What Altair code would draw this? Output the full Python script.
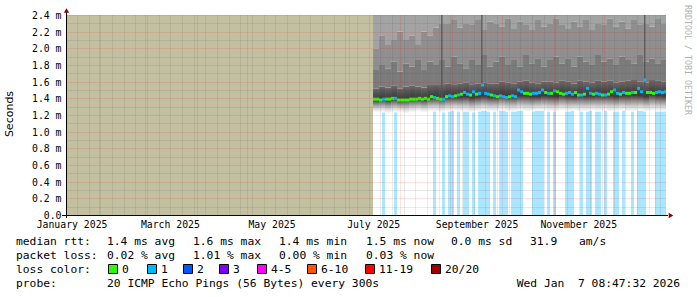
import altair as alt
import pandas as pd

# ---------------- time frame ----------------
VIEW_START = (2025, 1, 12, 8, 47, 32)
VIEW_END = (2026, 1, 7, 8, 47, 32)
NODATA_FROM = "2025-01-12T08:47:32"
DATA_START = "2025-07-15T14:00:00"
FMT = "%Y-%m-%dT%H:%M:%S"

# ---------------- median rtt (ms) and loss, 1.8-day bins from DATA_START ----------------
median_ms = [
    1.39, 1.39, 1.38, 1.39, 1.39, 1.39, 1.40, 1.40,
    1.38, 1.38, 1.38, 1.38, 1.39, 1.39, 1.39, 1.40, 1.39, 1.40, 1.39,
    1.42, 1.41, 1.40, 1.39, 1.39, 1.42,
    1.43, 1.42, 1.43, 1.44, 1.45, 1.47,
    1.45, 1.44, 1.48, 1.45, 1.46,
    1.56,
    1.46, 1.45, 1.44,
    1.43, 1.42, 1.43, 1.42, 1.41, 1.42, 1.43, 1.42,
    1.50, 1.48,
    1.46, 1.46, 1.45, 1.46, 1.46, 1.47,
    1.50,
    1.47, 1.46, 1.46,
    1.49, 1.48,
    1.46, 1.45, 1.46, 1.47,
    1.45, 1.47,
    1.44, 1.44, 1.45,
    1.52,
    1.46, 1.45, 1.46, 1.45,
    1.44, 1.44, 1.45,
    1.48, 1.50,
    1.46, 1.45, 1.47, 1.46, 1.46,
    1.47, 1.47,
    1.52, 1.48, 1.62,
    1.47, 1.47, 1.46, 1.47,
    1.48, 1.47, 1.48,
]
loss_cnt = [
    0, 0, 0, 1, 0, 0, 0, 1,
    0, 0, 0, 0, 0, 0, 0, 0, 0, 0, 0,
    0, 1, 0, 0, 1, 0,
    1, 1, 0, 1, 0, 1,
    1, 0, 1, 0, 1,
    1,
    1, 1, 0,
    1, 0, 1, 1, 1, 0, 1, 1,
    1, 1,
    0, 0, 0, 1, 1, 1,
    1,
    0, 1, 0,
    1, 0,
    0, 0, 1, 1,
    1, 0,
    0, 1, 0,
    1,
    1, 0, 1, 1,
    0, 1, 0,
    0, 1,
    1, 0, 1, 0, 0,
    1, 0,
    1, 1, 1,
    0, 0, 0, 1,
    1, 1, 1,
]

# ---------------- smoke boundaries (ms), 3.6-day bins from DATA_START ----------------
smoke_bottom = [
    1.23, 1.23, 1.22, 1.23, 1.23, 1.22, 1.23, 1.24, 1.23, 1.24,
    1.24, 1.23, 1.24, 1.25, 1.24, 1.24, 1.23, 1.24, 1.25, 1.24,
    1.24, 1.25, 1.24, 1.24, 1.25, 1.24, 1.24, 1.25, 1.25, 1.24,
    1.24, 1.25, 1.24, 1.25, 1.24, 1.24, 1.25, 1.24, 1.25, 1.24,
    1.24, 1.25, 1.24, 1.24, 1.25, 1.24, 1.25, 1.24, 1.24,
]
smoke_dark_top = [
    1.52, 1.54, 1.53, 1.55, 1.52, 1.54, 1.55, 1.54, 1.53, 1.56,
    1.57, 1.56, 1.58, 1.57, 1.58, 1.59, 1.57, 1.58, 1.59, 1.58,
    1.58, 1.60, 1.59, 1.58, 1.60, 1.61, 1.59, 1.58, 1.60, 1.60,
    1.59, 1.61, 1.60, 1.58, 1.61, 1.60, 1.59, 1.61, 1.60, 1.61,
    1.59, 1.60, 1.61, 1.62, 1.60, 1.59, 1.62, 1.61, 1.60,
]
smoke_mid_top = [
    1.74, 1.80, 1.76, 1.84, 1.72, 1.82, 1.78, 1.86, 1.75, 1.84,
    1.80, 1.86, 1.78, 1.90, 1.82, 1.76, 1.86, 1.80, 1.92, 1.78,
    1.84, 1.90, 1.80, 1.86, 1.78, 1.92, 1.82, 1.88, 1.78, 1.86,
    1.90, 1.82, 1.88, 1.78, 1.90, 1.84, 1.80, 1.92, 1.84, 1.88,
    1.80, 1.90, 1.86, 1.82, 1.92, 1.84, 1.88, 1.82, 1.86,
]
smoke_light_bottom = [
    2.00, 2.15, 2.05, 2.10, 2.20, 2.10, 2.15, 2.05, 2.20, 2.15,
    2.25, 2.30, 2.30, 2.35, 2.25, 2.30, 2.28, 2.35, 2.22, 2.32,
    2.30, 2.26, 2.36, 2.24, 2.32, 2.28, 2.22, 2.34, 2.26, 2.30,
    2.36, 2.28, 2.24, 2.32, 2.26, 2.34, 2.22, 2.30, 2.28, 2.36,
    2.26, 2.32, 2.24, 2.34, 2.28, 2.30, 2.26, 2.36, 2.30,
]

# dark columns (periods with high rtt spread)
spike_from = ["2025-08-25T12:00:00", "2025-09-18T12:00:00", "2025-12-25T06:00:00"]
spike_to = ["2025-08-26T06:00:00", "2025-09-19T06:00:00", "2025-12-26T00:00:00"]
spike_low = [1.42, 1.45, 1.50]

# ---------------- legend texts ----------------
rtt_line = ["median rtt:", "1.4 ms avg", "1.6 ms max", "1.4 ms min", "1.5 ms now",
            "0.0 ms sd", "31.9", "am/s"]
loss_line = ["packet loss:", "0.02 % avg", "1.01 % max", "0.00 % min", "0.03 % now"]
loss_title = "loss color:"
loss_labels = ["0", "1", "2", "3", "4-5", "6-10", "11-19", "20/20"]
loss_colors = ["#26ff00", "#00b8ff", "#0059ff", "#7e00ff", "#ff00ff", "#ff5500", "#ff0000", "#a00000"]
probe_line = ["probe:", "20 ICMP Echo Pings (56 Bytes) every 300s"]
stamp = "Wed Jan\u00a0\u00a07 08:47:32 2026"
month_labels = ["January 2025", "March 2025", "May 2025", "July 2025",
                "September 2025", "November 2025"]
month_label_at = ["2025-01-16T00:00:00", "2025-03-16T00:00:00", "2025-05-16T00:00:00",
                  "2025-07-16T00:00:00", "2025-09-16T00:00:00", "2025-11-16T00:00:00"]
y_title = "Seconds"
watermark = "RRDTOOL / TOBI OETIKER"

# ---------------- tables ----------------
step_m = pd.Timedelta(hours=43.2)
tm = pd.date_range(DATA_START, periods=len(median_ms), freq=step_m)
med = pd.DataFrame({"t0": tm.strftime(FMT), "t1": (tm + step_m).strftime(FMT),
                    "median": median_ms, "loss": loss_cnt})
lossbg = med[med["loss"] > 0].assign(lo=0.0, hi=2.4)

step_s = pd.Timedelta(hours=86.4)
ts = pd.date_range(DATA_START, periods=len(smoke_bottom), freq=step_s)
smoke = pd.DataFrame({"t0": ts.strftime(FMT), "t1": (ts + step_s).strftime(FMT),
                      "bottom": smoke_bottom, "dark": smoke_dark_top,
                      "mid": smoke_mid_top, "light": smoke_light_bottom, "top": 2.4})
spikes = pd.DataFrame({"t0": spike_from, "t1": spike_to, "lo": spike_low, "hi": 2.4})
nodata = pd.DataFrame({"t0": [NODATA_FROM], "t1": [DATA_START], "lo": [0.0], "hi": [2.4]})
mlab = pd.DataFrame({"t": month_label_at, "label": month_labels})


def dt(y, mo, d, h=0, mi=0, s=0):
    return alt.DateTime(year=y, month=mo, date=d, hours=h, minutes=mi, seconds=s)


# grid positions: weekly (Sunday) minor lines and month starts
week_days = pd.date_range("2025-01-19", "2026-01-07", freq="7D")
month_days = pd.date_range("2025-02-01", "2026-01-01", freq="MS")
grid_days = sorted(set(week_days) | set(month_days))
x_grid_values = [dt(d.year, d.month, d.day) for d in grid_days]
y_grid_values = [i / 10 for i in range(25)]

RED = "rgba(255,0,0,0.22)"
GREY = "rgba(80,80,80,0.24)"

xscale = alt.Scale(domain=[dt(*VIEW_START), dt(*VIEW_END)])
yscale = alt.Scale(domain=[0, 2.4], nice=False, zero=False)
xaxis = alt.Axis(values=x_grid_values, grid=True, labels=False, ticks=False, domain=False,
                 title=None, gridDash=[1, 1], zindex=1,
                 gridColor=alt.condition("date(datum.value) == 1", alt.value(RED), alt.value(GREY)))
yaxis = alt.Axis(values=y_grid_values, grid=True, ticks=False, domain=False, title=None,
                 gridDash=[1, 1], zindex=1,
                 gridColor=alt.condition("round(datum.value*10) % 2 == 0", alt.value(RED), alt.value(GREY)),
                 labelExpr="round(datum.value*10) % 2 != 0 ? '' : (datum.value == 0 ? '0.0\u00a0\u00a0' : format(datum.value, '.1f') + '\u00a0m')",
                 labelFont="DejaVu Sans Mono", labelFontSize=9.8, labelColor="#000000",
                 labelPadding=5, labelBaseline="middle", labelOffset=0.5)


def X(f):
    return alt.X(f, type="temporal", scale=xscale, axis=xaxis)


def Y(f):
    return alt.Y(f, type="quantitative", scale=yscale, axis=yaxis)


layers = []
layers.append(alt.Chart(nodata).mark_rect(color="#c2c0a0").encode(
    x=X("t0"), x2="t1", y=Y("lo"), y2="hi"))
layers.append(alt.Chart(lossbg).mark_rect(color="#aae6ff", clip=True).encode(
    x=X("t0"), x2="t1", y=Y("lo"), y2="hi"))

lower_grad = alt.Gradient(gradient="linear", x1=0, x2=0, y1=1, y2=0, stops=[
    alt.GradientStop(color="#ffffff", offset=0.0),
    alt.GradientStop(color="#d6d6d6", offset=0.16),
    alt.GradientStop(color="#8e8e8e", offset=0.34),
    alt.GradientStop(color="#3c3c3c", offset=0.52),
    alt.GradientStop(color="#4a4a4a", offset=0.72),
    alt.GradientStop(color="#6a6a6a", offset=1.0)])
layers.append(alt.Chart(smoke).mark_rect(color=lower_grad, clip=True).encode(
    x=X("t0"), x2="t1", y=Y("bottom"), y2="dark"))
layers.append(alt.Chart(smoke).mark_rect(color="#7b7b7b", clip=True).encode(
    x=X("t0"), x2="t1", y=Y("dark"), y2="mid"))
layers.append(alt.Chart(smoke).mark_rect(color="#8f8f8f", clip=True).encode(
    x=X("t0"), x2="t1", y=Y("mid"), y2="light"))
layers.append(alt.Chart(smoke).mark_rect(color="#a3a3a3", clip=True).encode(
    x=X("t0"), x2="t1", y=Y("light"), y2="top"))
layers.append(alt.Chart(spikes).mark_rect(color="#555555", clip=True).encode(
    x=X("t0"), x2="t1", y=Y("lo"), y2="hi"))
layers.append(alt.Chart(med).mark_rule(strokeWidth=3, strokeCap="butt", clip=True).encode(
    x=X("t0"), x2="t1", y=Y("median"),
    color=alt.Color("loss:N", scale=alt.Scale(domain=[0, 1], range=["#26ff00", "#00b8ff"]),
                    legend=None)))

# month labels under the axis
layers.append(alt.Chart(mlab).mark_text(font="DejaVu Sans Mono", fontSize=9.8, align="center",
                                        baseline="alphabetic", color="#000000").encode(
    x=X("t:T"), y=alt.value(213), text="label:N"))

# ---------- decorations in pixel space (page coords minus plot origin 66,15) ----------
OX, OY = 66, 15


def P(x, y):
    return dict(x=alt.value(x - OX), y=alt.value(y - OY))


# axes lines
layers.append(alt.Chart().mark_rule(color="#000000", strokeWidth=1).encode(
    x=alt.value(62 - OX), x2=alt.value(668 - OX), y=alt.value(215.5 - OY)))
layers.append(alt.Chart().mark_rule(color="#000000", strokeWidth=1).encode(
    x=alt.value(66.5 - OX), y=alt.value(10 - OY), y2=alt.value(218 - OY)))
layers.append(alt.Chart().mark_point(shape="triangle-up", filled=True, size=28, color="#8b0000",
                                     opacity=1).encode(**P(66.5, 10.5)))
layers.append(alt.Chart().mark_point(shape="triangle-right", filled=True, size=28, color="#8b0000",
                                     opacity=1).encode(**P(671, 215.5)))

TXT = dict(font="DejaVu Sans Mono", fontSize=11.3, color="#000000", baseline="alphabetic")


def text_at(s, x, y, align="left", **kw):
    style = dict(TXT)
    style.update(kw)
    return alt.Chart().mark_text(align=align, **style).encode(text=alt.value(s), **P(x, y))


rtt_x = [16, 107, 193, 279, 366, 451, 530, 579]
for s, x in zip(rtt_line, rtt_x):
    layers.append(text_at(s, x, 245))
loss_x = [16, 107, 193, 279, 366]
for s, x in zip(loss_line, loss_x):
    layers.append(text_at(s, x, 259))
layers.append(text_at(loss_title, 16, 273))
sw_x = [108, 147, 183, 219, 257, 307, 365, 431]
for lab, col, x in zip(loss_labels, loss_colors, sw_x):
    layers.append(alt.Chart().mark_rect(fill=col, stroke="#000000", strokeWidth=1).encode(
        x=alt.value(x + 0.5 - OX), x2=alt.value(x + 9.5 - OX),
        y=alt.value(264.5 - OY), y2=alt.value(273.5 - OY)))
    layers.append(text_at(lab, x + 14, 273))
layers.append(text_at(probe_line[0], 16, 287))
layers.append(text_at(probe_line[1], 107, 287))
layers.append(text_at(stamp, 680, 287, align="right"))

layers.append(alt.Chart().mark_text(font="DejaVu Sans", fontSize=11, angle=270, align="center",
                                    baseline="middle", color="#000000").encode(
    text=alt.value(y_title), **P(10, 114)))
layers.append(alt.Chart().mark_text(font="DejaVu Sans Mono", fontSize=8.3, angle=90, align="center",
                                    baseline="middle", color="#b0b0b0").encode(
    text=alt.value(watermark), **P(687, 60)))

chart = alt.layer(*layers).properties(
    width=600, height=200,
    autosize=alt.AutoSizeParams(type="none"),
    padding={"left": OX, "top": OY, "right": 697 - 600 - OX, "bottom": 297 - 200 - OY},
    background="#ffffff",
).configure_view(stroke=None)

chart.save("out.html", embed_options={"renderer": "svg", "actions": False})
